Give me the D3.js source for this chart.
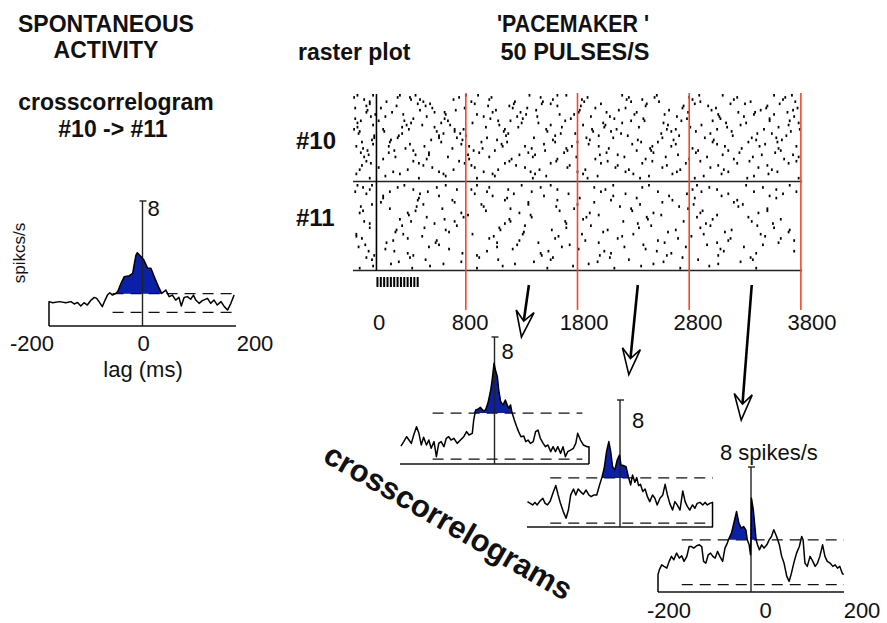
<!DOCTYPE html>
<html><head><meta charset="utf-8">
<script src="https://cdn.jsdelivr.net/npm/d3@7"></script>
<style>
body{margin:0;background:#fff;}
svg{display:block;font-family:"Liberation Sans",Arial,Helvetica,sans-serif;}
</style></head><body>
<svg id="chart" width="887" height="623"></svg>
<script>
// ---------------- DATA ----------------
// raster: spike times (ms) per trial
const spikes10 = [
[-170,-30,210,350,800,910,1370,1620,1700,2200,2510,2890,3100,3560,3720],
[-200,190,300,740,1030,1470,1890,2260,2490,2800,3230,3660],
[-110,310,390,690,1010,1580,1840,2240,2380,2830,3200,3640],
[-60,90,420,850,1240,1490,1860,2280,2530,2900,3350,3750],
[-60,370,480,880,1230,1480,1560,2010,2420,2850,3170,3300,3610],
[-90,180,440,1000,1190,1620,1830,2410,2750,2970,3500],
[-190,40,500,790,1220,1350,1960,2230,2740,3040,3490,3770],
[-80,390,710,1070,1430,1820,2170,2620,3000,3440,3730],
[-90,140,520,610,1040,1290,1810,2060,2330,2790,3240,3390,3680],
[-10,240,620,900,1340,1640,1770,2310,2580,3060,3380,3560],
[-50,80,450,960,1260,1440,1920,2090,2690,3070,3290,3740],
[-190,330,610,1020,1310,1740,2130,2390,2780,3080,3520],
[-140,20,250,640,1090,1200,1690,2280,2400,2730,3010,3520,3700],
[-170,310,580,860,1300,1450,2030,2200,2570,3130,3310,3780],
[-30,270,410,660,1100,1560,1850,2050,2610,2910,3260,3690],
[-170,230,520,980,1270,1660,2040,2350,2810,3140,3600],
[-200,60,290,700,780,1150,1520,1930,2150,2600,2680,3050,3470,3790],
[-150,70,540,700,1140,1530,1940,2100,2640,2860,3180,3710],
[-160,230,600,750,1180,1650,1780,2190,2550,2990,3410,3540],
[-20,200,560,800,1160,1600,1990,2250,2710,3190,3670],
[-20,190,560,720,990,1410,1880,2120,2560,2940,3360,3580],
[-40,130,490,770,1080,1580,1910,2340,2660,3020,3400,3630],
[-130,120,580,940,1170,1600,1800,2370,2520,3010,3330,3590],
[-30,300,760,1120,1500,1900,2290,2680,3050,3480],
[-180,110,430,830,1130,1330,1750,1990,2470,2640,3120,3430,3760],
[-120,260,680,950,1390,1700,2080,2450,2830,3270,3600],
[-80,160,330,870,1060,1510,1710,2330,2460,2880,3150,3620],
[-140,110,470,920,1360,1680,2060,2480,2860,3250,3570],
[-70,350,470,820,1280,1420,2000,2160,2700,3100,3450,3730],
[-110,170,640,1010,1400,1790,2220,2590,2960,3370,3780],
[60,450,830,1210,1620,1960,2410,2800,3200,3650],
[-90,330,740,1190,1610,2070,2470,2900,3340,3760],
[-50,380,790,1150,1560,2010,2380,2770,3230,3690],
[-130,420,850,1250,1730,2160,2600,3060,3500],
[20,500,880,1330,1710,2140,2560,2990,3420],
[-150,280,690,1090,1460,1870,2260,2720,3110,3540],
[150,560,960,1380,1800,2230,2690,3150,3590],
[-180,210,600,1040,1420,1850,2300,2650,3090,3510],
[80,620,1060,1520,1980,2440,2930,3380],
[-60,380,900,1400,1890,2360,2850,3320,3780]
];
const spikes11 = [
[-170,-40,250,620,900,1300,1560,2120,2440,2870,3310,3700],
[-120,190,540,1010,1470,1950,2380,2980,3460],
[-60,330,720,850,1180,1620,2050,2830,3050,3580],
[-190,120,460,990,1390,2010,2520,2910,3380,3760],
[-90,390,880,1230,1720,2230,2780,3150,3640],
[60,560,1040,1500,2120,2620,3090,3520],
[60,380,1170,1820,2330,2850,3580],
[370,680,1150,1620,2100,2650,3230],
[40,700,1360,1950,2560,3200],
[-40,420,940,1360,1800,2360,2840,3280],
[-140,360,960,1610,2180,2710,3240],
[120,590,1200,1770,2280,2790,3500],
[-120,350,980,1640,2290,2920,3500],
[-150,280,760,1280,1910,2480,2900,3420],
[290,820,1380,1990,2550,3050],
[450,780,1390,1880,2420,2870,3330],
[210,610,1190,1850,2430,3010,3620],
[-110,310,700,1200,1690,2210,2750,3360],
[-60,520,1150,1700,2340,2950,3550],
[230,720,1330,1920,2460,2990,3410],
[-60,430,1100,1700,2350,2900,3560],
[180,620,1110,1570,2070,2680,3180,3700],
[170,650,1320,2030,2610,3120,3690],
[-180,240,860,1310,1840,2300,2930,3440],
[-180,410,1050,1630,2200,2820,3480],
[-130,280,1010,1600,2160,2700,3170,3620],
[150,540,1280,1870,2520,3150,3740],
[90,530,1080,1450,1990,2580,3050,3600],
[-100,560,1260,1730,2390,2960,3460],
[-160,470,1080,1660,2220,2770,3290],
[80,650,1220,1810,2410,3080],
[-70,160,990,1540,2040,2510,3110,3740],
[280,770,1470,2100,2640,3400],
[-20,330,900,1480,2000,2600,3060],
[-90,300,920,1580,2090,2740,3350],
[-40,440,1090,1560,2260,2880,3370],
[200,760,1410,1980,2570,3260],
[130,600,1240,1900,2480,3060],
[-30,480,1130,1760,2370,2980],
[-150,320,900,1530,2130,2720,3400]
];
const pulseTimes = [0,30,60,90,120,150,180,210,240,270,300,330,360];
const rasterTicks = [0,800,1800,2800,3800];
const markerTimes = [800,1800,2800,3800];

// crosscorrelograms: lag (ms) and rate (spikes/s)
const lagTicks = [-200,0,200];
const lagsS = [-200,-200,-192,-178,-164,-153,-146,-139,-132,-125,-118,-110,-103,-98,-93,-86,-80,-75,-70,-64,-57,-53,-46,-39,-28,-21,-18,-14,-11,-3,3,11,18,25,34,41,50,57,64,71,78,83,89,96,103,109,114,121,128,139,146,153,160,168,175,182,189,196];
const ratesS = [0,1.56,1.49,1.56,1.49,1.56,1.41,1.51,1.28,1.49,1.34,1.66,1.83,1.77,1.56,1.24,1.66,1.98,2.13,1.98,2.09,2.20,2.73,3.16,3.22,3.37,3.90,4.54,4.69,4.43,4.22,3.69,3.69,3.16,2.52,2.09,2.30,1.88,1.98,1.66,1.83,1.28,1.83,1.88,1.71,1.98,1.66,1.45,1.62,1.77,1.45,1.66,1.34,1.56,1.24,1.02,1.45,1.98];

const lagsA = [-198,-192,-186,-181,-176,-171,-165,-160,-155,-150,-144,-139,-134,-128,-123,-118,-113,-107,-102,-97,-92,-86,-79,-72,-65,-59,-54,-47,-44,-40,-35,-30,-24,-19,-14,-8,-5,-1,2,6,9,13,18,23,27,30,34,37,42,47,51,56,62,66,71,76,82,87,92,97,103,108,113,119,124,129,134,140,145,150,155,161,167,172,176,182,188,196,200,200];
const ratesA = [1.13,1.41,1.72,1.51,1.30,1.83,2.35,1.93,1.20,1.68,1.20,1.51,0.99,1.41,0.46,1.30,1.41,1.09,1.62,1.72,1.51,1.62,1.30,1.51,1.72,2.04,1.83,1.93,2.77,3.40,3.45,3.57,3.36,3.40,3.82,4.66,5.29,6.34,5.92,5.50,4.66,3.93,3.72,4.03,3.72,3.51,3.72,3.24,2.77,2.35,2.04,1.72,1.76,1.41,1.51,1.30,1.41,2.04,2.14,1.62,1.30,1.09,1.20,0.78,1.09,0.78,1.09,0.67,1.09,0.46,0.78,0.88,0.99,1.30,1.93,1.51,1.20,1.09,1.09,0];

const lagsB = [-199,-193,-188,-183,-178,-172,-166,-161,-156,-150,-143,-138,-133,-128,-122,-116,-111,-106,-100,-95,-90,-85,-79,-73,-67,-62,-56,-50,-44,-39,-34,-29,-24,-20,-16,-11,-6,-1,2,7,13,18,23,27,32,36,40,44,49,54,59,64,70,75,80,86,92,97,102,107,113,118,123,129,135,140,145,150,156,161,166,172,178,183,188,193,199,199];
const ratesB = [1.60,1.49,1.39,1.55,1.39,1.64,1.81,1.49,1.39,1.64,2.23,2.61,2.02,1.49,0.97,0.55,1.07,2.02,2.39,2.02,2.39,2.23,2.06,2.33,2.02,1.91,2.02,2.02,2.65,3.11,3.70,4.75,5.38,4.75,3.80,3.59,4.22,4.54,3.91,3.87,3.80,3.17,2.65,3.28,2.82,3.11,2.61,2.69,2.23,2.39,1.91,1.60,2.02,1.81,1.39,1.81,2.02,2.69,2.02,1.49,1.07,1.60,1.39,1.07,2.27,1.60,1.28,1.07,1.39,1.18,1.49,1.55,1.39,1.55,1.39,1.49,1.55,0];

const lagsC = [-200,-200,-197,-192,-187,-181,-176,-171,-166,-160,-154,-149,-144,-138,-133,-128,-123,-117,-111,-106,-102,-97,-92,-87,-82,-77,-72,-67,-61,-56,-51,-47,-42,-37,-31,-26,-21,-16,-11,-8,-4,-1,0,1,5,9,11,14,18,23,28,34,39,44,49,55,61,66,71,77,82,87,92,98,104,109,112,116,121,127,133,138,143,148,154,159,164,170,176,181,186,191,196,199];
const ratesC = [0,1.11,1.43,1.74,1.64,1.53,1.96,2.28,2.06,2.49,2.17,2.32,1.96,2.28,2.91,2.91,2.81,2.96,3.02,2.91,1.96,1.85,2.38,2.49,2.28,2.17,2.60,2.28,1.96,2.81,3.13,3.45,3.77,4.40,5.15,4.40,4.09,4.19,3.98,3.34,3.02,2.38,3.34,6.00,5.26,3.98,3.34,3.02,2.70,3.02,2.81,3.02,3.34,3.55,3.98,3.55,3.02,2.28,1.85,1.00,0.68,1.21,1.85,2.49,2.91,3.55,3.34,1.85,1.64,2.28,1.96,1.64,1.85,2.28,3.02,2.28,1.96,1.85,1.64,1.74,1.53,1.64,1.21,1.11];

// significance levels (spikes/s) [upper, lower], and lag range of dashed lines and of blue fill
const levelsS = [2.07, 0.87], dashS = [-64, 200], fillS = [-53, 41];
const levelsA = [3.21, 0.31], dashA = [-131, 186], fillA = [-44, 38];
const levelsB = [3.09, 0.25], dashB = [-150, 200], fillB = [-40, 18];
const levelsC = [3.34, 0.47], dashC = [-149, 200], fillC = [-52, 12];

// ---------------- DRAWING ----------------
const svg = d3.select('#chart');
const BLUE = '#0b20a8', RED = '#f2492a', INK = '#111';

function txt(x, y, s, size, opt = {}) {
  const t = svg.append('text').attr('x', x).attr('y', y).text(s)
    .attr('font-size', size).attr('fill', INK)
    .attr('font-weight', opt.bold ? 'bold' : 'normal')
    .attr('text-anchor', opt.anchor || 'start');
  if (opt.transform) t.attr('transform', opt.transform);
  if (opt.len) t.attr('textLength', opt.len).attr('lengthAdjust', 'spacingAndGlyphs');
  return t;
}

// titles
txt(106, 32, 'SPONTANEOUS', 23, {bold: true, anchor: 'middle'});
txt(106, 58, 'ACTIVITY', 23, {bold: true, anchor: 'middle'});
txt(116, 110, 'crosscorrelogram', 23, {bold: true, anchor: 'middle'});
txt(113, 137, '#10 -> #11', 23, {bold: true, anchor: 'middle'});
txt(298, 60, 'raster plot', 23, {bold: true});
txt(573, 32, "'PACEMAKER '", 23, {bold: true, anchor: 'middle', len: 152});
txt(575, 60, '50 PULSES/S', 23, {bold: true, anchor: 'middle', len: 149});
txt(296, 149, '#10', 24, {bold: true});
txt(296, 226, '#11', 24, {bold: true});

// ---- raster ----
const rx = d3.scaleLinear().domain([-210, 3810]).range([353, 802]);
const rxLabel = d3.scaleLinear().domain([0, 3800]).range([379, 812]);
const y10 = d3.scaleLinear().domain([0, 40]).range([94, 179]);
const y11 = d3.scaleLinear().domain([0, 40]).range([184, 269]);

const rg = svg.append('g');
function drawSpikes(trains, ys) {
  trains.forEach((train, i) => {
    rg.selectAll(null).data(train).enter().append('rect')
      .attr('x', d => rx(d) - 0.9).attr('y', ys(i))
      .attr('width', 1.8).attr('height', 2.6).attr('fill', '#000');
  });
}
drawSpikes(spikes10, y10);
drawSpikes(spikes11, y11);

rg.selectAll('.hl').data([y10.range()[1] + 2.5, y11.range()[1] + 1.5]).enter().append('line')
  .attr('x1', rx.range()[0]).attr('x2', rx.range()[1])
  .attr('y1', d => d).attr('y2', d => d)
  .attr('stroke', '#222').attr('stroke-width', 1.6);
rg.append('line').attr('x1', rx(0)).attr('x2', rx(0)).attr('y1', 94).attr('y2', 271)
  .attr('stroke', '#000').attr('stroke-width', 1.6);
rg.selectAll('.red').data(markerTimes).enter().append('line')
  .attr('x1', d => rx(d)).attr('x2', d => rx(d)).attr('y1', 93).attr('y2', 310)
  .attr('stroke', RED).attr('stroke-width', 1.6);
rg.selectAll('.pulse').data(pulseTimes).enter().append('rect')
  .attr('x', d => rx(d)).attr('y', 277).attr('width', 2).attr('height', 10).attr('fill', '#000');
rg.selectAll('.rtick').data(rasterTicks).enter().append('text')
  .attr('x', d => rxLabel(d)).attr('y', 330).attr('text-anchor', 'middle')
  .attr('font-size', 22).attr('fill', INK).text(d => d);

// ---- correlogram panels ----
function panel(cfg, lags, rates, levels, dash, fill) {
  const g = svg.append('g');
  const x = d3.scaleLinear().domain([-200, 200]).range(cfg.xr);
  const y = d3.scaleLinear().domain([0, 8]).range(cfg.yr);
  const interp = l => {
    for (let i = 0; i < lags.length - 1; i++) {
      if (lags[i] <= l && l <= lags[i + 1] && lags[i + 1] > lags[i])
        return rates[i] + (rates[i + 1] - rates[i]) * (l - lags[i]) / (lags[i + 1] - lags[i]);
    }
    return rates[0];
  };
  const pts = [[fill[0], interp(fill[0])]];
  lags.forEach((l, i) => { if (l > fill[0] && l < fill[1]) pts.push([l, rates[i]]); });
  pts.push([fill[1], interp(fill[1])]);
  g.append('path').datum(pts)
    .attr('d', d3.area().x(d => x(d[0])).y0(y(levels[0])).y1(d => y(Math.max(d[1], levels[0]))))
    .attr('fill', BLUE);
  g.selectAll('.lev').data(levels).enter().append('line')
    .attr('x1', x(dash[0])).attr('x2', x(dash[1]))
    .attr('y1', d => y(d)).attr('y2', d => y(d))
    .attr('stroke', '#111').attr('stroke-width', 1.3).attr('stroke-dasharray', '11,7');
  g.append('line').attr('x1', x(-200)).attr('x2', x(200)).attr('y1', y(0)).attr('y2', y(0))
    .attr('stroke', '#111').attr('stroke-width', 1.6);
  g.append('line').attr('x1', x(0)).attr('x2', x(0)).attr('y1', y(0)).attr('y2', y(8))
    .attr('stroke', '#222').attr('stroke-width', 1.4);
  g.append('line').attr('x1', x(0) - 3).attr('x2', x(0) + 4).attr('y1', y(8)).attr('y2', y(8))
    .attr('stroke', '#222').attr('stroke-width', 1.4);
  g.append('path').datum(lags.map((l, i) => [l, rates[i]]))
    .attr('d', d3.line().x(d => x(d[0])).y(d => y(d[1])))
    .attr('fill', 'none').attr('stroke', '#000').attr('stroke-width', 1.5).attr('stroke-linejoin', 'round');
  txt(x(0) + cfg.lab[0], y(8) + cfg.lab[1], cfg.labText, 22);
  return {x, y};
}

const pS = panel({xr: [49, 236], yr: [326, 201], lab: [5, 15], labText: '8'}, lagsS, ratesS, levelsS, dashS, fillS);
const pA = panel({xr: [400, 589], yr: [464, 337], lab: [7, 22], labText: '8'}, lagsA, ratesA, levelsA, dashA, fillA);
const pB = panel({xr: [527, 713], yr: [527, 400], lab: [12, 28], labText: '8'}, lagsB, ratesB, levelsB, dashB, fillB);
const pC = panel({xr: [658, 844], yr: [592, 467], lab: [-31, -7], labText: '8 spikes/s'}, lagsC, ratesC, levelsC, dashC, fillC);

// lag axis labels
const lxS = d3.scaleLinear().domain([-200, 200]).range([32, 255]);
svg.selectAll('.ltS').data(lagTicks).enter().append('text')
  .attr('x', d => lxS(d)).attr('y', 351).attr('text-anchor', 'middle')
  .attr('font-size', 22).attr('fill', INK).text(d => d);
txt(143, 377, 'lag (ms)', 22, {anchor: 'middle'});
txt(25, 253, 'spikcs/s', 17, {anchor: 'middle', transform: 'rotate(-90,25,253)'});
const lxC = d3.scaleLinear().domain([-200, 200]).range([669, 862]);
svg.selectAll('.ltC').data(lagTicks).enter().append('text')
  .attr('x', d => lxC(d)).attr('y', 618).attr('text-anchor', 'middle')
  .attr('font-size', 22).attr('fill', INK).text(d => d);

// rotated label
txt(443, 531, 'crosscorrelograms', 31, {bold: true, anchor: 'middle', transform: 'rotate(30,443,531)'});

// arrows: from raster time to a point above each panel (lag, rate)
const arrows = [
  {t: 1365, p: pA, lag: 57, rate: 8.0},
  {t: 2340, p: pB, lag: 19, rate: 9.6},
  {t: 3360, p: pC, lag: -21, rate: 11.0}
];
arrows.forEach(a => {
  const x0 = rx(a.t), y0 = 285;
  const x1 = a.p.x(a.lag), y1 = a.p.y(a.rate);
  const dx = x1 - x0, dy = y1 - y0, len = Math.hypot(dx, dy);
  const ux = dx / len, uy = dy / len, nx = -uy, ny = ux;
  const L = 26, Wd = 9;
  const notch = [x1 - ux * L * 0.62, y1 - uy * L * 0.62];
  svg.append('line').attr('x1', x0).attr('y1', y0).attr('x2', notch[0]).attr('y2', notch[1])
    .attr('stroke', '#000').attr('stroke-width', 2.6);
  const head = [[x1 - ux * L + nx * Wd, y1 - uy * L + ny * Wd], [x1, y1],
                [x1 - ux * L - nx * Wd, y1 - uy * L - ny * Wd], notch];
  svg.append('path').attr('d', 'M' + head.map(p => p.join(',')).join('L') + 'Z')
    .attr('fill', '#fff').attr('stroke', '#000').attr('stroke-width', 1.6).attr('stroke-linejoin', 'miter');
});
</script>
</body></html>
